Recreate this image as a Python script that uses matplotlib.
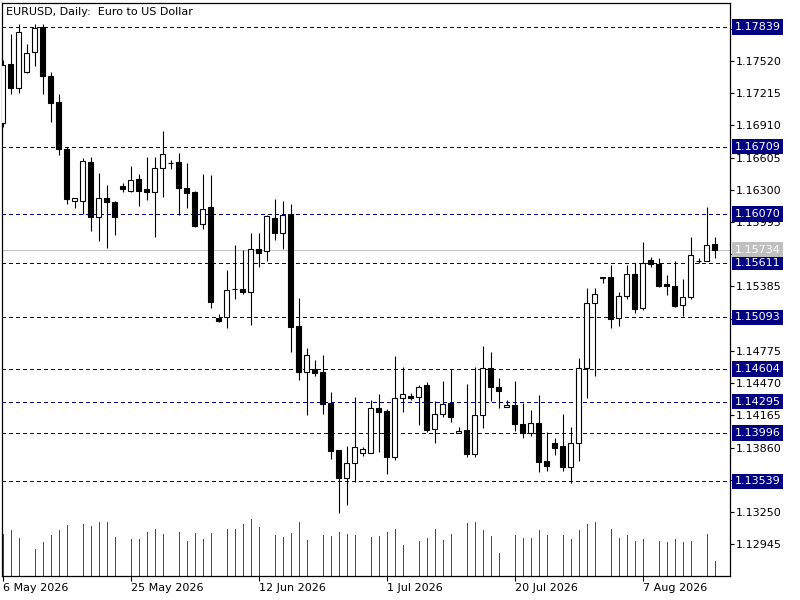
import numpy as np
import matplotlib
matplotlib.use('Agg')
import matplotlib.pyplot as plt

# EURUSD daily bars
opens = [1.16933, 1.17491, 1.17264, 1.17415, 1.17605, 1.17841, 1.17377, 1.17131, 1.16686, 1.16194,
         1.16194, 1.16563, 1.16043, 1.16223, 1.16185, 1.16336, 1.16289, 1.16402, 1.16308, 1.16279,
         1.16507, 1.16554, 1.16563, 1.16317, 1.16279, 1.15976, 1.16137, 1.15087, 1.15096, 1.15361,
         1.15361, 1.15333, 1.15740, 1.15721, 1.16033, 1.15891, 1.16071, 1.15011, 1.14575, 1.14604,
         1.14575, 1.14282, 1.13837, 1.13572, 1.13714, 1.13808, 1.13808, 1.14235, 1.14206, 1.13771,
         1.14329, 1.14348, 1.14339, 1.14452, 1.14036, 1.14178, 1.14282, 1.13998, 1.14026, 1.13799,
         1.14168, 1.14613, 1.14433, 1.14244, 1.14263, 1.14083, 1.13998, 1.14092, 1.13733, 1.13903,
         1.13875, 1.13676, 1.13903, 1.14613, 1.15229, 1.15475, 1.15475, 1.15087, 1.15295, 1.15503,
         1.15181, 1.15636, 1.15598, 1.15408, 1.15389, 1.15210, 1.15285, 1.15626, 1.15626, 1.15787]
highs = [1.17529, 1.17775, 1.17870, 1.17680, 1.17870, 1.17870, 1.17415, 1.17207, 1.16705, 1.16223,
         1.16601, 1.16611, 1.16459, 1.16346, 1.16194, 1.16365, 1.16526, 1.16450, 1.16611, 1.16611,
         1.16857, 1.16582, 1.16649, 1.16554, 1.16290, 1.16450, 1.16440, 1.15124, 1.15541, 1.15778,
         1.15730, 1.15891, 1.15891, 1.16062, 1.16213, 1.16194, 1.16166, 1.15276, 1.14803, 1.14689,
         1.14736, 1.14386, 1.13837, 1.13875, 1.14339, 1.13865, 1.14310, 1.14367, 1.14225, 1.14727,
         1.14623, 1.14377, 1.14452, 1.14481, 1.14301, 1.14490, 1.14604, 1.14055, 1.14462, 1.14623,
         1.14821, 1.14765, 1.14519, 1.14310, 1.14490, 1.14282, 1.14216, 1.14358, 1.14007, 1.13950,
         1.14178, 1.14055, 1.14708, 1.15370, 1.15370, 1.15475, 1.15588, 1.15333, 1.15588, 1.15607,
         1.15806, 1.15664, 1.15655, 1.15494, 1.15626, 1.15456, 1.15853, 1.15655, 1.16137, 1.15853]
lows = [1.16895, 1.17207, 1.17217, 1.17406, 1.17472, 1.17207, 1.16942, 1.16630, 1.16166, 1.16128,
        1.16071, 1.15910, 1.15815, 1.15749, 1.15872, 1.16279, 1.16279, 1.16147, 1.16204, 1.15853,
        1.16232, 1.16497, 1.16062, 1.16128, 1.15948, 1.15929, 1.15181, 1.15049, 1.14992, 1.15266,
        1.15314, 1.15020, 1.15569, 1.15626, 1.15825, 1.15740, 1.14765, 1.14500, 1.14168, 1.14537,
        1.14178, 1.13752, 1.13240, 1.13316, 1.13534, 1.13780, 1.13808, 1.13818, 1.13610, 1.13742,
        1.14197, 1.14310, 1.14074, 1.14007, 1.13903, 1.14149, 1.14102, 1.13998, 1.13771, 1.13771,
        1.14045, 1.14301, 1.14235, 1.14244, 1.14017, 1.13950, 1.13969, 1.13629, 1.13638, 1.13789,
        1.13638, 1.13524, 1.13733, 1.14329, 1.14537, 1.15418, 1.14992, 1.15011, 1.15266, 1.15134,
        1.15162, 1.15569, 1.15380, 1.15304, 1.15191, 1.15105, 1.15266, 1.15607, 1.15626, 1.15655]
closes = [1.17482, 1.17264, 1.17794, 1.17595, 1.17832, 1.17377, 1.17122, 1.16686, 1.16213, 1.16223,
          1.16573, 1.16043, 1.16223, 1.16185, 1.16043, 1.16308, 1.16393, 1.16289, 1.16279, 1.16507,
          1.16639, 1.16550, 1.16317, 1.16270, 1.15957, 1.16118, 1.15238, 1.15058, 1.15352, 1.15358,
          1.15333, 1.15740, 1.15702, 1.16052, 1.15891, 1.16062, 1.15001, 1.14575, 1.14736, 1.14566,
          1.14272, 1.13827, 1.13572, 1.13714, 1.13865, 1.13846, 1.14235, 1.14197, 1.13771, 1.14329,
          1.14367, 1.14329, 1.14433, 1.14026, 1.14178, 1.14272, 1.14149, 1.14017, 1.13799, 1.14168,
          1.14613, 1.14433, 1.14395, 1.14263, 1.14083, 1.13998, 1.14092, 1.13723, 1.13685, 1.13856,
          1.13676, 1.13903, 1.14613, 1.15229, 1.15314, 1.15465, 1.15077, 1.15295, 1.15503, 1.15172,
          1.15607, 1.15598, 1.15389, 1.15389, 1.15200, 1.15285, 1.15683, 1.15624, 1.15778, 1.15734]
volumes = [42, 46, 38, 0, 27, 34, 41, 46, 51, 0,
           52, 50, 54, 54, 39, 0, 37, 37, 44, 47,
           42, 0, 44, 35, 43, 37, 43, 0, 47, 47,
           52, 57, 49, 0, 41, 39, 43, 54, 36, 0,
           41, 40, 44, 42, 41, 0, 39, 40, 44, 47,
           31, 0, 35, 38, 47, 36, 42, 0, 53, 54,
           46, 40, 23, 0, 41, 38, 38, 46, 41, 0,
           41, 37, 46, 52, 54, 0, 47, 38, 41, 35,
           37, 0, 35, 34, 37, 34, 35, 0, 42, 15]

levels = [1.17839, 1.16709, 1.16070, 1.15611, 1.15093, 1.14604, 1.14295, 1.13996, 1.13539]
last_price = 1.15734
date_labels = ['6 May 2026', '25 May 2026', '12 Jun 2026', '1 Jul 2026', '20 Jul 2026', '7 Aug 2026']
label_every = 16

NAVY = '#000080'
SILVER = '#c0c0c0'
PX = 0.72  # one pixel at 100 dpi, in points

fig = plt.figure(figsize=(8, 6), dpi=100)
fig.patch.set_facecolor('white')
ax = fig.add_axes([2 / 800, 24 / 600, 728 / 800, 573.3 / 600])
axv = ax.twinx()
axv.set_zorder(0)
ax.set_zorder(1)
ax.patch.set_visible(False)

x = np.arange(len(opens))
o = np.array(opens)
c = np.array(closes)

# volume bars along the bottom
axv.vlines(x, 0, volumes, color='#008000', lw=PX, antialiased=False)
axv.set_ylim(0, max(volumes) * 10.07)
axv.set_yticks([])
for s in axv.spines.values():
    s.set_visible(False)

# candles
ax.vlines(x, lows, highs, color='black', lw=0.8, zorder=2)
face = np.where(c >= o, 'white', 'black')
ax.bar(x, np.abs(c - o), bottom=np.minimum(o, c), width=0.56, color=face,
       edgecolor='black', linewidth=0.8, zorder=3)

# levels
for lv in levels:
    ax.axhline(lv, color=NAVY, lw=PX, ls=(0, (4, 3)), zorder=1, antialiased=False)
ax.axhline(last_price, color=SILVER, lw=PX, zorder=1, antialiased=False)

ax.set_xlim(-0.09, 90.91)
ax.set_ylim(1.12644, 1.18071)

ticks = np.round(np.arange(1.12945, 1.1790, 0.00305), 5)
ax.yaxis.tick_right()
ax.set_yticks(ticks)
ax.set_yticklabels(['%.5f' % t for t in ticks])
ax.tick_params(axis='y', length=3, pad=1.5, labelsize=8, width=0.8, direction='out')

ax.set_xticks(x[::label_every][:len(date_labels)])
ax.set_xticklabels(date_labels, ha='left')
ax.tick_params(axis='x', length=3.5, pad=1.5, labelsize=8, width=0.8, direction='out')

for s in ax.spines.values():
    s.set_linewidth(0.9)

# price boxes on the right
for lv in levels:
    ax.annotate('%.5f' % lv, xy=(1, lv), xycoords=('axes fraction', 'data'),
                xytext=(3.2, 0), textcoords='offset points', ha='left', va='center',
                fontsize=8, color='white', zorder=10, annotation_clip=False,
                bbox=dict(boxstyle='square,pad=0.25', fc=NAVY, ec='none'))
ax.annotate('%.5f' % last_price, xy=(1, last_price), xycoords=('axes fraction', 'data'),
            xytext=(3.2, 0), textcoords='offset points', ha='left', va='center',
            fontsize=8, color='white', zorder=10, annotation_clip=False,
            bbox=dict(boxstyle='square,pad=0.25', fc=SILVER, ec='none'))

fig.text(6 / 800, 1 - 12 / 600, 'EURUSD, Daily:  Euro to US Dollar', fontsize=8,
         va='center', ha='left', zorder=20)

fig.savefig('out.png', dpi=100)
